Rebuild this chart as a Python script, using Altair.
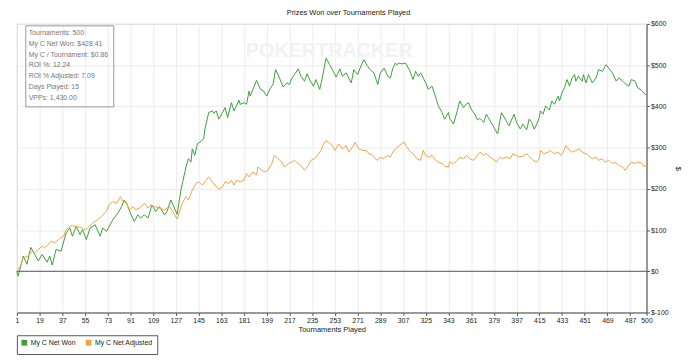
import altair as alt
import pandas as pd

# ---- data ----
won_t = [1, 2, 6, 9, 12, 18, 21, 25, 27, 29, 32, 36, 40, 43, 45, 48, 51, 53, 56, 59, 63, 67, 69, 72, 77, 81, 84, 86, 88, 91,
         94, 97, 99, 102, 105, 108, 111, 114, 118, 120, 123, 128, 131, 135, 137, 139, 140, 142, 144, 146, 149, 150, 153, 156, 157, 159, 161, 164, 166, 168,
         171, 173, 175, 177, 178, 181, 183, 185, 186, 188, 191, 194, 196, 199, 202, 204, 206, 208, 212, 215, 217, 219, 221, 224, 226, 229, 231, 233, 236, 238,
         241, 243, 246, 249, 251, 254, 257, 259, 262, 266, 268, 271, 273, 276, 279, 281, 284, 287, 289, 292, 295, 297, 299, 301, 302, 304, 306, 309, 312, 315,
         317, 319, 321, 325, 327, 330, 333, 335, 338, 340, 343, 344, 347, 350, 352, 355, 357, 359, 361, 364, 366, 368, 371, 373, 376, 378, 382, 385, 388, 391,
         395, 397, 400, 402, 405, 407, 409, 411, 413, 415, 416, 418, 420, 423, 425, 427, 430, 431, 433, 435, 437, 439, 441, 443, 444, 446, 449, 450, 452, 454,
         457, 460, 462, 465, 468, 471, 473, 476, 478, 481, 484, 486, 488, 491, 493, 496, 499, 500]
won_v = [0, -12, 37, 17, 58, 25, 41, 22, 37, 15, 53, 49, 93, 105, 85, 109, 89, 101, 77, 105, 113, 85, 105, 97, 125, 141, 157, 173, 165, 141,
         121, 137, 129, 137, 129, 161, 145, 157, 137, 145, 173, 138, 197, 253, 273, 265, 297, 281, 309, 313, 321, 345, 385, 389, 383, 389, 369, 385, 397, 373,
         409, 389, 401, 415, 405, 409, 405, 437, 425, 441, 463, 441, 439, 425, 445, 453, 489, 477, 447, 457, 453, 469, 477, 491, 473, 461, 479, 465, 449, 465,
         441, 469, 517, 501, 489, 471, 491, 473, 481, 457, 489, 477, 493, 513, 497, 489, 481, 453, 481, 493, 473, 469, 493, 505, 501, 505, 503, 505, 489, 465,
         485, 473, 481, 457, 441, 449, 421, 401, 385, 369, 385, 371, 357, 389, 413, 397, 405, 409, 393, 381, 367, 371, 361, 381, 365, 355, 333, 385, 369, 353,
         381, 361, 345, 357, 343, 369, 361, 345, 357, 373, 389, 381, 401, 391, 413, 405, 425, 413, 433, 445, 465, 449, 469, 477, 461, 473, 461, 477, 457, 477,
         457, 469, 489, 485, 501, 489, 481, 461, 469, 461, 453, 449, 465, 461, 445, 439, 429, 428.41]

adj_t = [1, 4, 6, 10, 13, 15, 18, 21, 23, 26, 28, 31, 34, 38, 40, 44, 47, 51, 55, 57, 61, 65, 68, 72, 74, 77, 80, 83, 85, 88,
         90, 93, 95, 98, 102, 105, 107, 110, 114, 118, 122, 126, 128, 132, 135, 137, 140, 143, 145, 148, 150, 153, 156, 158, 161, 164, 166, 169, 171, 173,
         175, 178, 181, 183, 185, 188, 191, 192, 195, 198, 200, 203, 205, 208, 211, 213, 216, 219, 221, 224, 226, 229, 232, 234, 237, 240, 242, 244, 246, 248,
         251, 253, 256, 259, 262, 264, 267, 269, 272, 275, 278, 280, 283, 285, 287, 289, 291, 295, 297, 299, 301, 304, 306, 308, 310, 313, 315, 318, 321, 323,
         325, 328, 330, 333, 335, 338, 340, 343, 344, 347, 350, 352, 355, 357, 360, 363, 365, 368, 371, 373, 376, 378, 381, 384, 386, 389, 392, 394, 397, 399,
         402, 405, 407, 410, 413, 415, 416, 419, 422, 424, 427, 430, 432, 434, 436, 439, 441, 444, 447, 449, 452, 454, 457, 460, 462, 465, 467, 470, 473, 475,
         478, 481, 483, 485, 488, 491, 493, 496, 498, 500]
adj_v = [0, 13, 33, 37, 49, 45, 53, 61, 57, 65, 73, 69, 77, 85, 101, 111, 109, 107, 101, 105, 117, 125, 133, 145, 161, 169, 165, 181, 169, 165,
         149, 157, 149, 153, 165, 153, 161, 157, 153, 149, 157, 137, 127, 165, 181, 173, 197, 213, 217, 209, 217, 229, 217, 209, 199, 205, 217, 213, 221, 209,
         221, 217, 221, 237, 229, 241, 233, 253, 245, 241, 245, 261, 281, 273, 265, 253, 261, 265, 269, 261, 257, 245, 257, 269, 273, 285, 293, 309, 317, 313,
         305, 293, 309, 297, 305, 289, 301, 313, 297, 293, 293, 285, 281, 273, 269, 277, 273, 281, 277, 289, 297, 305, 309, 313, 301, 289, 285, 273, 269, 293,
         281, 277, 281, 269, 265, 261, 255, 253, 265, 261, 269, 277, 273, 281, 273, 269, 277, 289, 281, 285, 277, 273, 265, 277, 273, 277, 273, 285, 281, 277,
         279, 285, 279, 269, 265, 273, 293, 285, 289, 293, 285, 289, 281, 289, 305, 293, 289, 293, 297, 289, 285, 281, 273, 277, 269, 273, 265, 269, 261, 265,
         257, 253, 245, 253, 265, 261, 265, 263, 255, 255]

series_names = ["My C Net Won", "My C Net Adjusted"]
series_colors = ["#3c9f3c", "#f4a340"]
x_ticks = list(range(1, 488, 18)) + [500]
y_ticks = list(range(-100, 601, 50))
stats_lines = ["Tournaments: 500", "My C Net Won: $428.41", "My C / Tournament: $0.86", "ROI %: 12.24",
               "ROI % Adjusted: 7.09", "Days Played: 15", "VPPs: 1,430.00"]

rows = [{"t": t, "v": v, "s": series_names[0]} for t, v in zip(won_t, won_v)]
rows += [{"t": t, "v": v, "s": series_names[1]} for t, v in zip(adj_t, adj_v)]
df = pd.DataFrame(rows)

FONT = "Liberation Sans"

x_enc = alt.X("t:Q", scale=alt.Scale(domain=[1, 500], nice=False, zero=False),
              axis=alt.Axis(values=x_ticks, title="Tournaments Played", grid=True, gridColor="#ececec",
                            tickSize=3, labelPadding=1, labelFontSize=7, labelColor="#222", labelFont=FONT,
                            titleFontSize=7.5, titleFont=FONT, titleFontWeight="normal", titleColor="#222",
                            titlePadding=2, domainColor="#555", tickColor="#555", labelFlush=False,
                            labelOverlap=False))
y_enc = alt.Y("v:Q", scale=alt.Scale(domain=[-100, 600], nice=False, zero=False),
              axis=alt.Axis(orient="right", values=y_ticks, labelExpr="'$' + datum.value", title="$",
                            grid=True, gridColor="#ececec", tickSize=3, labelPadding=1, labelFontSize=7,
                            labelColor="#222", labelFont=FONT, titleFontSize=8, titleFont=FONT,
                            titleFontWeight="normal", titleColor="#222", titlePadding=5,
                            domainColor="#555", tickColor="#555"))

watermark = alt.Chart(pd.DataFrame({"w": ["POKERTRACKER"]})).mark_text(
    fontSize=20, fontWeight="bold", font=FONT, color="#f2f2f2", align="center", baseline="middle"
).encode(text="w:N", x=alt.value(316), y=alt.value(27))

lines = alt.Chart(df).mark_line(strokeWidth=1).encode(
    x=x_enc, y=y_enc,
    color=alt.Color("s:N", scale=alt.Scale(domain=series_names, range=series_colors),
                    sort=series_names,
                    legend=alt.Legend(title=None, orient="none", legendX=0, legendY=315, direction="horizontal",
                                      columns=2, symbolType="square", symbolSize=8, symbolStrokeWidth=3,
                                      labelFontSize=7, labelFont=FONT, labelColor="#222", columnPadding=5,
                                      labelOffset=3, padding=4, strokeColor="#555", fillColor="white")),
)

zero = alt.Chart(pd.DataFrame({"z": [0]})).mark_rule(color="#555", strokeWidth=1).encode(y="z:Q")

box = alt.Chart(pd.DataFrame({"b": [1]})).mark_rect(fill=None, stroke="#999", strokeWidth=1).encode(
    x=alt.value(9), x2=alt.value(98), y=alt.value(2), y2=alt.value(84))

stats = alt.Chart(pd.DataFrame({"k": [0]})).mark_text(
    align="left", baseline="top", fontSize=7, font=FONT, color="#777", lineHeight=11
).encode(x=alt.value(12), y=alt.value(5), text=alt.value(stats_lines))

chart = alt.layer(watermark, zero, lines, box, stats).properties(
    width=637, height=292,
    title=alt.Title("Prizes Won over Tournaments Played", fontSize=7.5, font=FONT, fontWeight="normal",
                    color="#222", offset=3, dx=17),
    padding={"left": 9, "top": 14, "right": 46, "bottom": 50},
    autosize=alt.AutoSizeParams(type="none"),
).configure_view(stroke="#999", strokeWidth=1)

chart.save("out.html", embed_options={"renderer": "svg", "actions": False})
